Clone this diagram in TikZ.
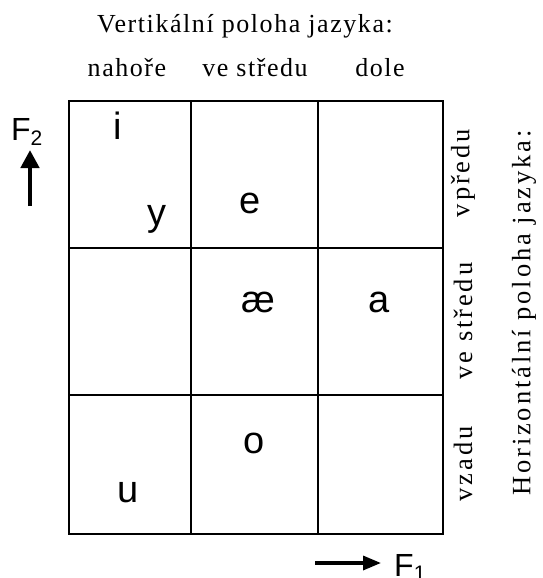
\documentclass[tikz,border=0pt]{standalone}
\usepackage{fontspec}
\setmainfont{Liberation Serif}[LetterSpace=6]
\newfontfamily\arial{Liberation Sans}
\newfontfamily\widespaced{Liberation Serif}[LetterSpace=11]
\usetikzlibrary{arrows.meta}
\begin{document}
\begin{tikzpicture}[x=1pt,y=-1pt,
  lbl/.style={font=\fontsize{26}{30}\selectfont, inner sep=0pt, anchor=base},
  rlbl/.style={font=\widespaced\fontsize{26.5}{30}\selectfont, inner sep=0pt, rotate=90},
  vow/.style={font=\arial\fontsize{38}{40}\selectfont, inner sep=0pt, anchor=base},
  fl/.style={font=\arial\fontsize{32}{34}\selectfont, inner sep=0pt, anchor=base west},
  gridline/.style={line width=2pt},
  farrow/.style={line width=4.5pt, -{Triangle[width=18pt,length=18pt]}}]
\useasboundingbox (0,0) rectangle (542,578);
% grid
\draw[gridline] (69,101) rectangle (443,534);
\draw[gridline] (191,101) -- (191,534);
\draw[gridline] (318,101) -- (318,534);
\draw[gridline] (69,248) -- (443,248);
\draw[gridline] (69,395) -- (443,395);
% titles
\node[lbl] (vt) at (245,33) {Vertikální poloha jazyka:};
\node[lbl] (c1) at (127,77) {nahoře};
\node[lbl] (c2) at (255,77) {ve středu};
\node[lbl] (c3) at (380,77) {dole};
\node[rlbl] (r1) at (463,173) {vpředu};
\node[rlbl] (r2) at (463,321) {ve středu};
\node[rlbl] (r3) at (463,464) {vzadu};
\node[rlbl] (ht) at (524,313) {Horizontální poloha jazyka:};
% vowels
\node[vow] (vi) at (118,139) {i};
\node[vow] (vy) at (157,225) {y};
\node[vow] (ve) at (250,213) {e};
\node[vow] (vae) at (258,312) {æ};
\node[vow] (va) at (379,312) {a};
\node[vow] (vo) at (254,453) {o};
\node[vow] (vu) at (128,502) {u};
% formant axes
\node[fl] (f2) at (11,140) {F\raisebox{-5pt}{\fontsize{21}{22}\selectfont 2}};
\coordinate (f2s) at (30,206);
\coordinate (f2e) at (30,150);
\draw[farrow] (f2s) -- (f2e);
\node[fl] (f1) at (394,576) {F\raisebox{-4pt}{\fontsize{21}{22}\selectfont 1}};
\coordinate (f1s) at (315,563);
\coordinate (f1e) at (381,563);
\draw[line width=3.3pt, -{Triangle[width=14pt,length=18pt]}] (f1s) -- (f1e);
\end{tikzpicture}
\end{document}
